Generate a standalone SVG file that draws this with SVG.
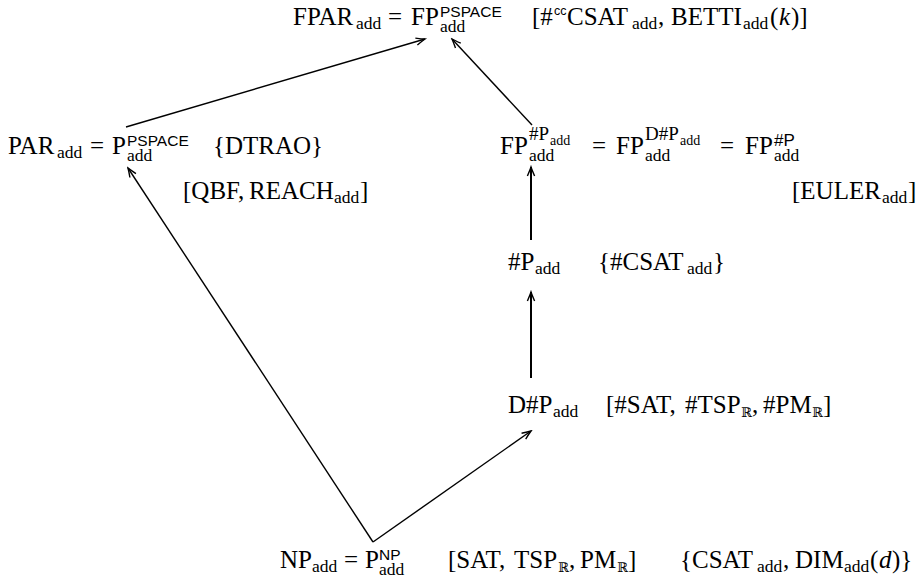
<svg xmlns="http://www.w3.org/2000/svg" width="924" height="588" viewBox="0 0 924 588">
<defs>
<style>
.t{font-family:"Liberation Serif","DejaVu Serif",serif;font-size:25px;fill:#000}
.s{font-size:17.5px}
.s2{font-size:19px}
.ss{font-size:14px}
.sf{font-family:"Liberation Sans","DejaVu Sans",sans-serif;font-size:15.5px}
.sfs{font-family:"Liberation Sans","DejaVu Sans",sans-serif;font-size:12.5px}
.i{font-style:italic}
.bb{font-family:"DejaVu Serif",serif;font-size:13px}
.ln{fill:none;stroke:#000;stroke-width:1.4}
.lv{fill:none;stroke:#000;stroke-width:2}
</style>
<marker id="ah" markerUnits="userSpaceOnUse" markerWidth="14" markerHeight="10" viewBox="-11 -5 12 10" refX="0" refY="0" orient="auto">
<path d="M-9,-3.6 Q-3,-1 0,0 Q-3,1 -9,3.6" fill="none" stroke="#000" stroke-width="1.4"/>
</marker>
</defs>
<rect width="924" height="588" fill="#fff"/>
<g id="connectors">
<line class="ln" x1="126" y1="127" x2="425" y2="39" marker-end="url(#ah)"/>
<line class="ln" x1="532" y1="125" x2="452" y2="39" marker-end="url(#ah)"/>
<line class="lv" x1="531" y1="240" x2="531" y2="167" marker-end="url(#ah)"/>
<line class="lv" x1="531" y1="378" x2="531" y2="292" marker-end="url(#ah)"/>
<line class="ln" x1="373" y1="542" x2="531" y2="431" marker-end="url(#ah)"/>
<line class="ln" x1="373" y1="542" x2="128" y2="168" marker-end="url(#ah)"/>
</g>
<g id="fpar">
<text class="t"><tspan x="293" y="25">FPAR</tspan><tspan class="s" x="356" y="29">add</tspan><tspan x="388" y="25">=</tspan><tspan x="411" y="25">FP</tspan><tspan class="sf" x="440" y="17">PSPACE</tspan><tspan class="s" x="440" y="32">add</tspan><tspan x="532" y="25">[#</tspan><tspan class="sfs" x="554" y="15">cc</tspan><tspan x="567" y="25">CSAT</tspan><tspan class="s" x="632" y="29">add</tspan><tspan x="658" y="25">,</tspan><tspan x="671" y="25">BETTI</tspan><tspan class="s" x="743" y="29">add</tspan><tspan x="770" y="25">(</tspan><tspan class="i" x="779" y="25">k</tspan><tspan x="791" y="25">)]</tspan></text>
</g>
<g id="par">
<text class="t"><tspan x="8" y="154">PAR</tspan><tspan class="s" x="57" y="158">add</tspan><tspan x="90" y="154">=</tspan><tspan x="112" y="154">P</tspan><tspan class="sf" x="127" y="146">PSPACE</tspan><tspan class="s" x="127" y="161">add</tspan><tspan x="213" y="154">{DTRAO}</tspan></text>
<text class="t"><tspan x="183" y="199">[QBF,</tspan><tspan x="249" y="199">REACH</tspan><tspan class="s" x="334" y="203">add</tspan><tspan x="360" y="199">]</tspan></text>
</g>
<g id="fp">
<text class="t"><tspan x="500" y="154">FP</tspan><tspan class="s2" x="529" y="140">#P</tspan><tspan class="ss" x="550" y="145">add</tspan><tspan class="s" x="529" y="161">add</tspan><tspan x="592" y="154">=</tspan><tspan x="616" y="154">FP</tspan><tspan class="s2" x="645" y="140">D#P</tspan><tspan class="ss" x="680" y="145">add</tspan><tspan class="s" x="645" y="161">add</tspan><tspan x="720" y="154">=</tspan><tspan x="745" y="154">FP</tspan><tspan class="sf" x="774" y="146" style="font-size:17px">#P</tspan><tspan class="s" x="774" y="161">add</tspan></text>
<text class="t"><tspan x="792" y="199">[EULER</tspan><tspan class="s" x="882" y="203">add</tspan><tspan x="908" y="199">]</tspan></text>
</g>
<g id="sharpp">
<text class="t"><tspan x="508" y="270">#P</tspan><tspan class="s" x="535" y="274">add</tspan><tspan x="598" y="270">{#CSAT</tspan><tspan class="s" x="687" y="274">add</tspan><tspan x="713" y="270">}</tspan></text>
</g>
<g id="dsharpp">
<text class="t"><tspan x="508" y="413">D#P</tspan><tspan class="s" x="553" y="417">add</tspan><tspan x="606" y="413">[#SAT,</tspan><tspan x="685" y="413">#TSP</tspan><tspan class="bb" x="741" y="417">ℝ</tspan><tspan x="752" y="413">,</tspan><tspan x="763" y="413">#PM</tspan><tspan class="bb" x="812" y="417">ℝ</tspan><tspan x="823" y="413">]</tspan></text>
</g>
<g id="np">
<text class="t"><tspan x="280" y="568">NP</tspan><tspan class="s" x="312" y="572">add</tspan><tspan x="344" y="568">=</tspan><tspan x="365" y="568">P</tspan><tspan class="sf" x="379" y="560">NP</tspan><tspan class="s" x="379" y="575">add</tspan><tspan x="448" y="568">[SAT,</tspan><tspan x="514" y="568">TSP</tspan><tspan class="bb" x="558" y="572">ℝ</tspan><tspan x="569" y="568">,</tspan><tspan x="580" y="568">PM</tspan><tspan class="bb" x="617" y="572">ℝ</tspan><tspan x="628" y="568">]</tspan><tspan x="680" y="568">{CSAT</tspan><tspan class="s" x="757" y="572">add</tspan><tspan x="783" y="568">,</tspan><tspan x="795" y="568">DIM</tspan><tspan class="s" x="844" y="572">add</tspan><tspan x="870" y="568">(</tspan><tspan class="i" x="879" y="568">d</tspan><tspan x="892" y="568">)}</tspan></text>
</g>
</svg>
